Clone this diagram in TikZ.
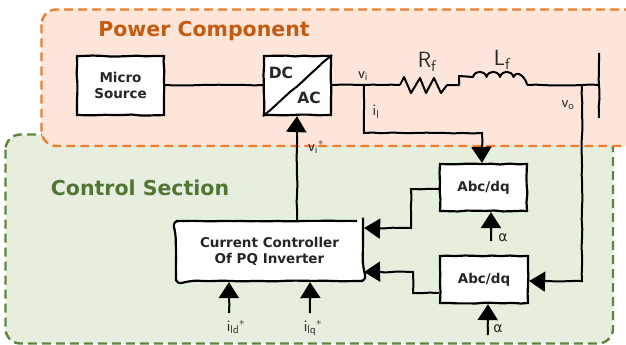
\documentclass[tikz,border=0pt]{standalone}
\usepackage{fontspec}
\setmainfont{DejaVu Sans}
\usetikzlibrary{arrows.meta,decorations.pathmorphing}
\definecolor{powerfill}{HTML}{FDE6D9}
\definecolor{powerline}{HTML}{ED7D31}
\definecolor{powertext}{HTML}{C55A11}
\definecolor{controlfill}{HTML}{E6EFDE}
\definecolor{controlline}{HTML}{5F8541}
\definecolor{controltext}{HTML}{527535}
\definecolor{labeltext}{HTML}{262626}
\tikzset{
  rough/.style={decorate,decoration={random steps,segment length=9pt,amplitude=0.5pt}},
  wire/.style={line width=2pt,black,rough},
  feed/.style={wire,-{Triangle[length=16pt,width=20pt]}},
  blockbox/.style={draw=black,line width=2.2pt,fill=white,rough,inner sep=0pt,align=center,text=labeltext,font=\bfseries\fontsize{13.5}{17}\selectfont},
  region/.style={line width=2.4pt,dash pattern=on 9pt off 5pt,rounded corners=15pt},
  signal/.style={inner sep=0pt,text=labeltext,font=\sffamily\fontsize{16}{18}\selectfont},
}
\begin{document}
\begin{tikzpicture}[x=1pt,y=-1pt]
	\useasboundingbox (0,0) rectangle (626,345);
	\clip (0,0) rectangle (626,345);
	% regions
	\draw[region,draw=controlline,fill=controlfill](5.5,134.5) rectangle (613,343.5);
	\draw[region,draw=powerline,fill=powerfill](41.5,9.5) rectangle (645,146);
	\node[inner sep=0pt,text=powertext,font=\bfseries\fontsize{20.5}{24}\selectfont] (powertitle) at (204,31) {Power Component};
	\node[inner sep=0pt,text=controltext,font=\bfseries\fontsize{20.5}{24}\selectfont] (controltitle) at (140,188) {Control Section};
	% blocks
	\node[blockbox,minimum width=87pt,minimum height=59pt] (micro) at (120.5,85.5) {Micro\\[-1pt]Source};
	\node[blockbox,minimum width=67pt,minimum height=59pt] (inverter) at (297.5,85.5) {};
	\draw[line width=2pt,rough] (inverter.south west)--(inverter.north east);
	\node[inner sep=0pt,text=labeltext,font=\bfseries\fontsize{15.5}{18}\selectfont] (dc) at (281,73) {DC};
	\node[inner sep=0pt,text=labeltext,font=\bfseries\fontsize{15.5}{18}\selectfont] (ac) at (309,98) {AC};
	\node[blockbox,minimum width=87pt,minimum height=47pt] (abcup) at (483.5,187.5) {Abc/dq};
	\node[blockbox,minimum width=88pt,minimum height=47pt] (abcdown) at (484,279.5) {Abc/dq};
	\node[blockbox,rounded corners=6pt,minimum width=187pt,minimum height=60pt] (controller) at (269.5,251) {Current Controller\\[-1pt]Of PQ Inverter};
	% points of the power line
	\coordinate (vinode) at (364,85);
	\coordinate (rfin) at (400,85);
	\coordinate (rfout) at (447,85);
	\coordinate (lfin) at (459,85);
	\coordinate (lfout) at (527,85);
	\coordinate (vonode) at (582,85);
	\coordinate (bustop) at (599,53);
	\coordinate (busbottom) at (599,118);
	\coordinate (busmid) at (599,85);
	% power line
	\draw[wire](micro.east |- 0,85)--(inverter.west |- 0,85);
	\draw[wire](inverter.east |- 0,85)--(vinode)--(rfin);
	\draw[line width=2pt,line join=round](rfin)--(404,77)--(411,93)--(420,78)--(426,93)--(434,78)--(441,93)--(rfout);
	\draw[line width=2pt,line join=round](rfout)--(lfin)--(459,76)--(473,77)
		foreach \hump in {0,1,2}{ .. controls +(2,-7) and +(-2,-7) .. ++(13.5,0) }
		.. controls +(4,-9) and +(0,-5) .. (lfout);
	\draw[wire](lfout)--(vonode)--(busmid);
	\draw[wire](bustop)--(busbottom);
	% feedback
	\draw[feed](vinode)--(364,133)--(482,133)--(abcup.north -| 482,0);
	\draw[feed](vonode)--(582,281)--(abcdown.east |- 0,281);
	\draw[feed](abcup.west |- 0,189)--(411,189)--(411,228)--(controller.east |- 0,228);
	\draw[feed](abcdown.west |- 0,293)--(413,293)--(413,272)--(controller.east |- 0,272);
	\draw[feed](controller.north -| 297,0)--(inverter.south -| 297,0);
	% inputs
	\coordinate (alphaup) at (491,241);
	\coordinate (alphadown) at (488,335);
	\coordinate (ildin) at (229,313);
	\coordinate (ilqin) at (310,313);
	\draw[feed](alphaup)--(abcup.south -| alphaup);
	\draw[feed](alphadown)--(abcdown.south -| alphadown);
	\draw[feed](ildin)--(controller.south -| ildin);
	\draw[feed](ilqin)--(controller.south -| ilqin);
	% labels
	\node[signal,font=\sffamily\fontsize{22}{24}\selectfont] (rflabel) at (427,62) {$\mathsf{R_f}$};
	\node[signal,font=\sffamily\fontsize{22}{24}\selectfont] (lflabel) at (502,60) {$\mathsf{L_f}$};
	\node[signal] (vilabel) at (363,76) {$\mathsf{v_i}$};
	\node[signal] (illabel) at (376,112) {$\mathsf{i_l}$};
	\node[signal] (volabel) at (568,105) {$\mathsf{v_o}$};
	\node[signal] (vistar) at (316,147) {$\mathsf{v_i}^*$};
	\node[signal,font=\rmfamily\fontsize{14}{16}\selectfont] (alphaone) at (503,238) {α};
	\node[signal,font=\rmfamily\fontsize{14}{16}\selectfont] (alphatwo) at (498,329) {α};
	\node[signal] (ildlabel) at (236,327) {$\mathsf{i_{ld}}^*$};
	\node[signal] (ilqlabel) at (313,328) {$\mathsf{i_{lq}}^*$};
\end{tikzpicture}
\end{document}
